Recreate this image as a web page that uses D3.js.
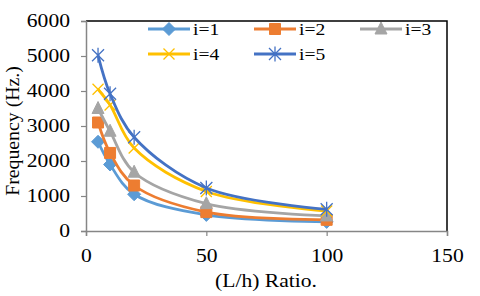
<!DOCTYPE html>
<html>
<head>
<meta charset="utf-8">
<script src="https://cdn.jsdelivr.net/npm/d3@7"></script>
<style>
  body { margin: 0; background: #fff; }
  text { font-family: "Liberation Serif", "Times New Roman", serif; fill: #000; }
</style>
</head>
<body>
<script>
// data
var ratios = [5, 10, 20, 50, 100];
var names = ["i=1", "i=2", "i=3", "i=4", "i=5"];
var freq1 = [2550, 1900, 1050, 460, 260];
var freq2 = [3100, 2230, 1300, 540, 320];
var freq3 = [3500, 2850, 1680, 780, 430];
var freq4 = [4050, 3600, 2370, 1130, 570];
var freq5 = [5020, 3920, 2680, 1230, 620];
var xTicks = [0, 50, 100, 150];
var yTicks = [0, 1000, 2000, 3000, 4000, 5000, 6000];

var series = [freq1, freq2, freq3, freq4, freq5];
var colors = ["#5B9BD5", "#ED7D31", "#A5A5A5", "#FFC000", "#4472C4"];
var shapes = ["diamond", "square", "triangle", "times", "asterisk"];
var sx = 1.2; // the text in the picture is stretched a bit sideways
var serif = "Liberation Serif";

var W = 480, H = 296;
// plot box (window.top is read-only, so other names)
var pLeft = 86, pRight = 447, pTop = 21, pBottom = 231;

var svg = d3.select("body").append("svg")
  .attr("width", W).attr("height", H);

var x = d3.scaleLinear().domain([0, 150]).range([pLeft, pRight]);
var y = d3.scaleLinear().domain([0, 6000]).range([pBottom, pTop]);

// frame: black on top and right
svg.append("path")
  .attr("d", "M" + pLeft + "," + pTop + "H" + pRight + "V" + pBottom)
  .attr("fill", "none").attr("stroke", "#000").attr("stroke-width", 1.5);

// axes
var yAxis = svg.append("g")
  .attr("transform", "translate(" + pLeft + ",0)")
  .call(d3.axisLeft(y).tickValues(yTicks).tickSize(5).tickPadding(11).tickFormat(d3.format("d")));
var xAxis = svg.append("g")
  .attr("transform", "translate(0," + pBottom + ")")
  .call(d3.axisBottom(x).tickValues(xTicks).tickSize(5).tickPadding(13).tickFormat(d3.format("d")));

[xAxis, yAxis].forEach(function(a) {
  a.select(".domain").attr("stroke", "#868686").attr("stroke-width", 1.5);
  a.selectAll(".tick line").attr("stroke", "#868686").attr("stroke-width", 1.2);
  a.selectAll("text").attr("font-size", 18).attr("font-family", serif).attr("fill", "#000");
});
yAxis.selectAll(".tick text").attr("x", -16 / sx).attr("transform", "scale(" + sx + ",1)");
xAxis.selectAll(".tick text").attr("transform", "scale(" + sx + ",1)");

// axis titles
svg.append("g").attr("transform", "translate(266,287) scale(" + sx + ",1)")
  .append("text").attr("text-anchor", "middle").attr("font-family", serif)
  .attr("font-size", 18).text("(L/h) Ratio.");
svg.append("g").attr("transform", "translate(19,131) rotate(-90) scale(1.1,1)")
  .append("text").attr("text-anchor", "middle").attr("font-family", serif)
  .attr("font-size", 18).text("Frequency (Hz.)");

// marker shapes
function marker(shape) {
  if (shape == "diamond") return "M0,-6.5L6.5,0L0,6.5L-6.5,0Z";
  if (shape == "square") return "M-5.5,-5.5H5.5V5.5H-5.5Z";
  if (shape == "triangle") return "M0,-7L6,5H-6Z";
  if (shape == "times") return "M-5.5,-5.5L5.5,5.5M-5.5,5.5L5.5,-5.5";
  return "M-6,-6L6,6M-6,6L6,-6M0,-7.5V7.5";
}
function isStroke(shape) { return shape == "times" || shape == "asterisk"; }

var line = d3.line()
  .x(function(d) { return x(d[0]); })
  .y(function(d) { return y(d[1]); })
  .curve(d3.curveCatmullRom.alpha(0.5));

series.forEach(function(vals, i) {
  var pts = ratios.map(function(r, j) { return [r, vals[j]]; });
  var g = svg.append("g");
  g.append("path").datum(pts)
    .attr("d", line)
    .attr("fill", "none").attr("stroke", colors[i]).attr("stroke-width", 2.8);
  g.selectAll("path.m").data(pts).enter().append("path")
    .attr("class", "m")
    .attr("transform", function(d) { return "translate(" + x(d[0]) + "," + y(d[1]) + ")"; })
    .attr("d", marker(shapes[i]))
    .attr("fill", isStroke(shapes[i]) ? "none" : colors[i])
    .attr("stroke", colors[i])
    .attr("stroke-width", isStroke(shapes[i]) ? 1.3 : 1);
});

// legend (3 per row)
var legX = [148, 254, 360], legY = [29, 54];
names.forEach(function(n, i) {
  var lx = legX[i % 3], ly = legY[Math.floor(i / 3)];
  var g = svg.append("g").attr("transform", "translate(" + lx + "," + ly + ")");
  g.append("line").attr("x1", 0).attr("x2", 42).attr("y1", 0).attr("y2", 0)
    .attr("stroke", colors[i]).attr("stroke-width", 2.8);
  g.append("path").attr("transform", "translate(21,0)")
    .attr("d", marker(shapes[i]))
    .attr("fill", isStroke(shapes[i]) ? "none" : colors[i])
    .attr("stroke", colors[i])
    .attr("stroke-width", isStroke(shapes[i]) ? 1.3 : 1);
  g.append("g").attr("transform", "translate(45,6) scale(1.15,1)")
    .append("text").attr("font-family", serif).attr("font-size", 17).text(n);
});
</script>
</body>
</html>
